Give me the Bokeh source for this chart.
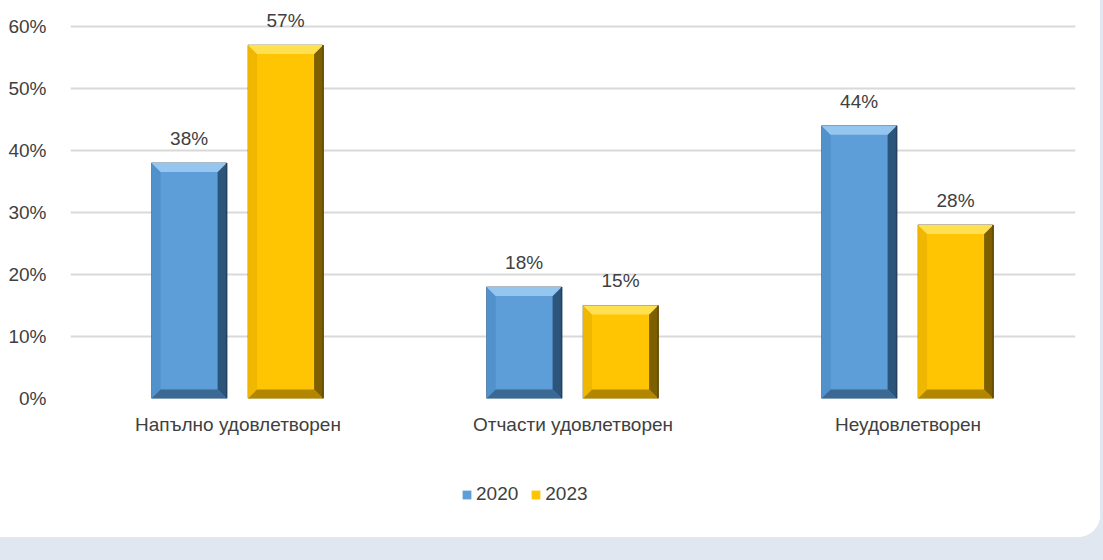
import numpy as np
from bokeh.plotting import figure
from bokeh.models import (ColumnDataSource, FixedTicker, Range1d, Legend, LegendItem,
                          NumeralTickFormatter, LabelSet)
from bokeh.layouts import column
from bokeh.embed import file_html
from bokeh.resources import INLINE
from bokeh.core.properties import value

categories = ["Напълно удовлетворен", "Отчасти удовлетворен", "Неудовлетворен"]
series_names = ["2020", "2023"]
values_2020 = [0.38, 0.18, 0.44]
values_2023 = [0.57, 0.15, 0.28]
y_ticks = [0.0, 0.1, 0.2, 0.3, 0.4, 0.5, 0.6]

FONT = "Liberation Sans Narrow, Arial Narrow, Liberation Sans, sans-serif"
TEXT_COLOR = "#404040"
FS = "19px"

W = 1100
p = figure(width=W, height=470, output_backend="svg", toolbar_location=None,
           x_range=Range1d(0, 3), y_range=Range1d(0, 0.629),
           min_border_left=70, min_border_right=25, min_border_top=8,
           min_border_bottom=72)
p.outline_line_color = None
p.background_fill_color = "white"
p.border_fill_color = "white"

# axes
p.yaxis.ticker = FixedTicker(ticks=y_ticks)
p.yaxis.formatter = NumeralTickFormatter(format="0%")
p.yaxis.axis_line_color = None
p.yaxis.major_tick_line_color = None
p.yaxis.minor_tick_line_color = None
p.yaxis.major_label_standoff = 18
p.yaxis.major_label_text_font = FONT
p.yaxis.major_label_text_font_size = FS
p.yaxis.major_label_text_color = TEXT_COLOR

cat_pos = [i + 0.5 for i in range(len(categories))]
p.xaxis.ticker = FixedTicker(ticks=cat_pos)
p.xaxis.major_label_overrides = {c: n for c, n in zip(cat_pos, categories)}
p.xaxis.axis_line_color = None
p.xaxis.major_tick_line_color = None
p.xaxis.minor_tick_line_color = None
p.xaxis.major_label_standoff = 9
p.xaxis.major_label_text_font = FONT
p.xaxis.major_label_text_font_size = FS
p.xaxis.major_label_text_color = TEXT_COLOR

p.xgrid.grid_line_color = None
p.ygrid.ticker = FixedTicker(ticks=y_ticks)
p.ygrid.grid_line_color = "#d9d9d9"
p.ygrid.grid_line_width = 2

bar_w = 0.224
offsets = [-0.146, 0.142]
px_x = 335.0   # px per x unit
px_y = 620.0   # px per y unit
bev = 9.0
bx, by = bev / px_x, bev / px_y

styles = [
    dict(face="#5d9dd8", top="#95c6f0", left="#5191cc", right="#2c557c",
         bottom="#3b6994", edge="#24425f"),
    dict(face="#ffc502", top="#ffe050", left="#f0b700", right="#7d5f00",
         bottom="#b38600", edge="#5e4700"),
]

for vals, off, st in zip([values_2020, values_2023], offsets, styles):
    xs = np.array(cat_pos) + off
    v = np.array(vals)
    src = ColumnDataSource(dict(x=xs, top=v, label=[f"{int(round(t*100))}%" for t in vals]))
    p.vbar(x="x", top="top", width=bar_w, bottom=0, source=src,
           fill_color=st["face"], line_color=st["edge"], line_width=1, line_alpha=0.6)
    x0 = xs - bar_w / 2
    x1 = xs + bar_w / 2
    tops, lefts, rights, bottoms = [], [], [], []
    for a, b, t in zip(x0, x1, v):
        tops.append(([a, b, b - bx, a + bx], [t, t, t - by, t - by]))
        bottoms.append(([a, b, b - bx, a + bx], [0, 0, by, by]))
        lefts.append(([a, a, a + bx, a + bx], [0, t, t - by, by]))
        rights.append(([b, b, b - bx, b - bx], [0, t, t - by, by]))
    for polys, col in [(lefts, st["left"]), (rights, st["right"]),
                       (bottoms, st["bottom"]), (tops, st["top"])]:
        p.patches(xs=[q[0] for q in polys], ys=[q[1] for q in polys],
                  fill_color=col, line_color=None)
    p.segment(x0=x1, y0=np.zeros_like(v), x1=x1, y1=v, line_color=st["edge"], line_width=1.5)
    labels = LabelSet(x="x", y="top", text="label", source=src, text_align="center",
                      text_baseline="bottom", y_offset=14, text_font=value(FONT),
                      text_font_size=FS, text_color=TEXT_COLOR)
    p.add_layout(labels)

# legend strip (separate small figure, part of the same white card)
pl = figure(width=W, height=67, output_backend="svg", toolbar_location=None,
            x_range=Range1d(0, 3), y_range=Range1d(0, 1),
            min_border=0, x_axis_type=None, y_axis_type=None)
pl.outline_line_color = None
pl.xgrid.grid_line_color = None
pl.ygrid.grid_line_color = None
pl.background_fill_color = "white"
pl.border_fill_color = "white"
legend_items = []
for vals, st, name in zip([values_2020, values_2023], styles, series_names):
    # legend swatch renderer: series data shifted far outside this strip's visible ranges
    src = ColumnDataSource(dict(x=[c + 20 for c in cat_pos],
                                top=[t - 20 for t in vals]))
    r = pl.vbar(x="x", top="top", bottom=-20, width=0.1, source=src,
                fill_color=st["face"], line_color=None)
    legend_items.append(LegendItem(label=name, renderers=[r]))
legend = Legend(items=legend_items, orientation="horizontal", location=(391, 32),
                border_line_color=None, background_fill_alpha=0,
                glyph_width=11, glyph_height=11, label_standoff=4, spacing=12,
                padding=4, margin=0, label_text_font=FONT, label_text_font_size=FS,
                label_text_color=TEXT_COLOR)
pl.add_layout(legend, "center")

card = column(p, pl, width=W, height=537, sizing_mode="fixed", spacing=0,
              styles={"background-color": "white", "border-bottom-right-radius": "22px",
                      "overflow": "hidden"})
layout = column(card, width=1103, height=560, sizing_mode="fixed",
                styles={"background-color": "#e1e7f1"})

open("out.html", "w").write(file_html(layout, INLINE))
